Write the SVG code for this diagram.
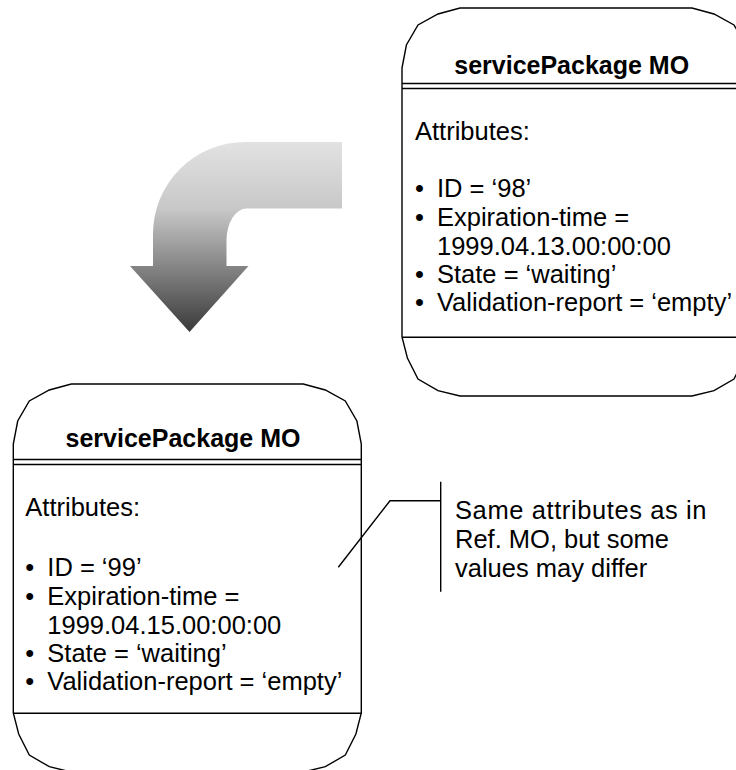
<svg xmlns="http://www.w3.org/2000/svg" width="736" height="770" viewBox="0 0 736 770">
<defs>
<style>
.box{fill:#fff;stroke:#000;stroke-width:1.4}
.ln{stroke:#000;stroke-width:1.4;fill:none}
.t{font-family:"Liberation Sans",Arial,sans-serif;font-size:25.5px;fill:#000}
.b{font-family:"Liberation Sans",Arial,sans-serif;font-size:25px;font-weight:bold;fill:#000;text-anchor:middle}
</style>
<linearGradient id="g" x1="0" y1="142" x2="0" y2="332" gradientUnits="userSpaceOnUse">
<stop offset="0" stop-color="#e2e2e2"/>
<stop offset="0.35" stop-color="#c8c8c8"/>
<stop offset="1" stop-color="#3a3a3a"/>
</linearGradient>
<path id="shape" d="M0,60 L4.4,37 L16,17 L36,6 L58,0 L290,0 L312,6 L332,17 L343.6,37 L348,60 L348,329 L342.6,350 L332,371 L312,382.7 L290,388 L58,388 L36,382.7 L16,371 L5.4,350 L0,329 Z"/>
</defs>
<rect width="736" height="770" fill="#fff"/>
<g id="arrow">
<path d="M342,142 L245,142 A92,92 0 0 0 153,234 L153,266 L130,266 L189.5,332 L248.5,266 L226.5,266 L226.5,240 A20,32 0 0 1 246.5,208.5 L342,208.5 Z" fill="url(#g)"/>
</g>
<g id="refMO" transform="translate(402,8)">
<use href="#shape" class="box"/>
<line class="ln" x1="0" y1="75.5" x2="348" y2="75.5"/>
<line class="ln" x1="0" y1="80.5" x2="348" y2="80.5"/>
<line class="ln" x1="0" y1="329.3" x2="348" y2="329.3"/>
<text class="b" x="169.7" y="66">servicePackage MO</text>
<text class="t" x="13" y="132">Attributes:</text>
<text class="t" x="13" y="189">•</text><text class="t" x="35" y="189">ID = ‘98’</text>
<text class="t" x="13" y="218">•</text><text class="t" x="35" y="218">Expiration-time =</text>
<text class="t" x="35" y="247">1999.04.13.00:00:00</text>
<text class="t" x="13" y="275">•</text><text class="t" x="35" y="275">State = ‘waiting’</text>
<text class="t" x="13" y="303">•</text><text class="t" x="35" y="303">Validation-report = ‘empty’</text>
</g>
<g id="newMO" transform="translate(13.3,384)">
<use href="#shape" class="box"/>
<line class="ln" x1="0" y1="75.5" x2="348" y2="75.5"/>
<line class="ln" x1="0" y1="80.5" x2="348" y2="80.5"/>
<line class="ln" x1="0" y1="329.3" x2="348" y2="329.3"/>
<text class="b" x="169.7" y="63">servicePackage MO</text>
<text class="t" x="12" y="132">Attributes:</text>
<text class="t" x="12" y="191.5">•</text><text class="t" x="34" y="191.5">ID = ‘99’</text>
<text class="t" x="12" y="220.5">•</text><text class="t" x="34" y="220.5">Expiration-time =</text>
<text class="t" x="34" y="249.5">1999.04.15.00:00:00</text>
<text class="t" x="12" y="277.5">•</text><text class="t" x="34" y="277.5">State = ‘waiting’</text>
<text class="t" x="12" y="305.5">•</text><text class="t" x="34" y="305.5">Validation-report = ‘empty’</text>
</g>
<g id="connectors">
<polyline class="ln" points="338.3,567.3 390,500.7 440.7,500.7"/>
<line class="ln" x1="440.7" y1="481.7" x2="440.7" y2="591.7"/>
</g>
<g id="note">
<text class="t" x="455" y="519" letter-spacing="0.6">Same attributes as in</text>
<text class="t" x="455" y="548">Ref. MO, but some</text>
<text class="t" x="455" y="577">values may differ</text>
</g>
</svg>
